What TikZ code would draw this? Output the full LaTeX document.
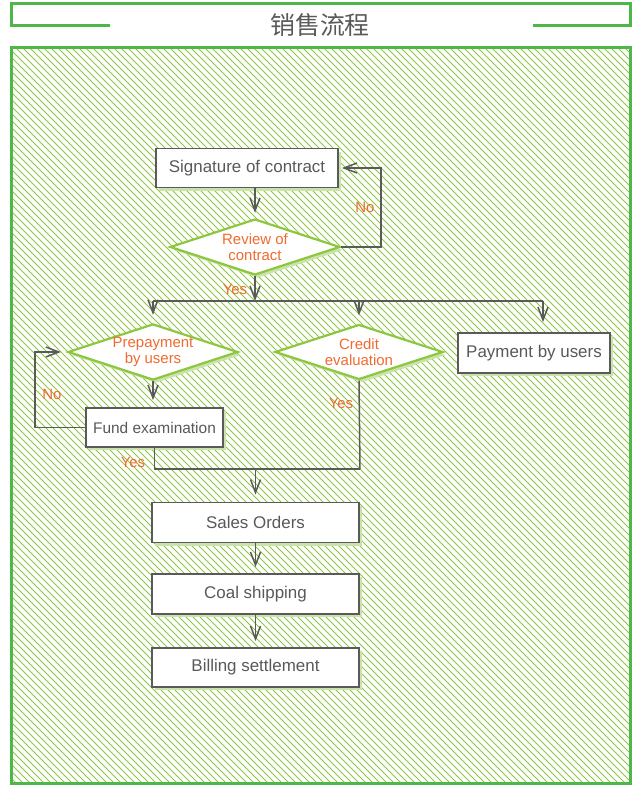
\documentclass[tikz,border=0pt]{standalone}
\usepackage{fontspec}
\setmainfont{Liberation Sans}
\newfontfamily\cjk{Noto Sans CJK SC}
\usetikzlibrary{shapes.geometric,arrows.meta,shadows}
\definecolor{frameg}{HTML}{4DB848}
\definecolor{hatchg}{HTML}{8DC63F}
\definecolor{diag}{HTML}{8DC63F}
\definecolor{shadg}{HTML}{C9E3AA}
\definecolor{txtg}{HTML}{595959}
\definecolor{lineg}{HTML}{5A5A5A}
\definecolor{orng}{HTML}{F26A2E}
\begin{document}
\begin{tikzpicture}[x=1bp,y=-1bp,
  shad/.style={drop shadow={shadow xshift=3bp,shadow yshift=-3bp,fill=shadg,opacity=1}},
  stepbox/.style={draw=lineg, line width=1.8bp, fill=white, text=txtg,
    font=\fontsize{17}{19}\selectfont, inner sep=0, shad},
  decision/.style={diamond, aspect=3, draw=diag, line width=2.2bp, fill=white,
    text=orng, font=\fontsize{15}{16}\selectfont, align=center, inner sep=0, shad},
  conn/.style={draw=lineg, line width=1.5bp},
  arr/.style={conn, -{Straight Barb[length=13bp,width=10bp]}},
  lab/.style={text=orng, font=\fontsize{15}{16}\selectfont, inner sep=0}]
\useasboundingbox (0,0) rectangle (633,785);
% hatched panel
\begin{scope}
  \clip (11,48) rectangle (630,783);
  \foreach \k in {-740,-733,...,630}
    \draw[hatchg, line width=0.8bp] (\k,48) -- ++(740,740);
\end{scope}
\draw[frameg, line width=3bp] (11,48) rectangle (630,783);
% title frame
\draw[frameg, line width=3bp] (110,26) -- (11,26) -- (11,4) -- (630,4) -- (630,26) -- (533,26);
\node[text=txtg] (title) at (320,25) {\cjk\fontsize{25}{28}\selectfont 销售流程};
% nodes
\node[stepbox, minimum width=182bp, minimum height=39bp] (sig) at (247,168) {Signature of contract};
\node[decision, minimum width=170bp, minimum height=56bp] (rev) at (255,247) {Review of\\contract};
\node[decision, minimum width=170bp, minimum height=55bp] (pre) at (153,352) {Prepayment\\by users};
\node[decision, minimum width=168bp, minimum height=55bp] (cre) at (359,352) {Credit\\evaluation};
\node[stepbox, minimum width=152bp, minimum height=40bp] (pay) at (534,353) {Payment by users};
\node[stepbox, minimum width=137bp, minimum height=39bp, font=\fontsize{15.5}{18}\selectfont] (fund) at (154.5,427.5) {Fund examination};
\node[stepbox, minimum width=207bp, minimum height=40bp] (sales) at (255.5,522.5) {Sales Orders};
\node[stepbox, minimum width=207bp, minimum height=40bp] (coal) at (255.5,594) {Coal shipping};
\node[stepbox, minimum width=207bp, minimum height=39bp] (bill) at (255.5,667.5) {Billing settlement};
% labels
\node[lab] (y1) at (235,289) {Yes};
\node[lab] (n1) at (365,207) {No};
\node[lab] (n2) at (52,394) {No};
\node[lab] (y2) at (341,403) {Yes};
\node[lab] (y3) at (133,462) {Yes};
% helper coordinates
\coordinate (busL) at (153,301);
\coordinate (busR) at (543,301);
\coordinate (mergeR) at (360,469);
\coordinate (loopA) at (381,168);
\coordinate (loopB) at (35,352);
% connectors
\draw[arr, shorten >=5bp] (sig.south -| rev.north) -- (rev.north);
\draw[arr] (rev.south) -- (rev.south |- busL);
\draw[conn] (busL) -- (busR);
\draw[arr, shorten >=8bp] (busL) -- (pre.north);
\draw[arr, shorten >=8bp] (busL -| cre.north) -- (cre.north);
\draw[arr, shorten >=10bp] (busR) -- (busR |- pay.north);
\draw[arr, shorten >=3bp] (rev.east) -| (loopA) -- (sig.east);
\draw[arr, shorten >=7bp] (pre.south) -- (pre.south |- fund.north);
\draw[arr, shorten >=6bp] (fund.west) -| (loopB) -- (pre.west);
\draw[conn] (fund.south) |- (mergeR);
\draw[conn] (cre.south) -- (mergeR);
\draw[arr, shorten >=7bp] (mergeR -| sales.north) -- (sales.north);
\draw[arr, shorten >=6bp] (sales.south) -- (coal.north);
\draw[arr, shorten >=6bp] (coal.south) -- (bill.north);
\end{tikzpicture}
\end{document}
